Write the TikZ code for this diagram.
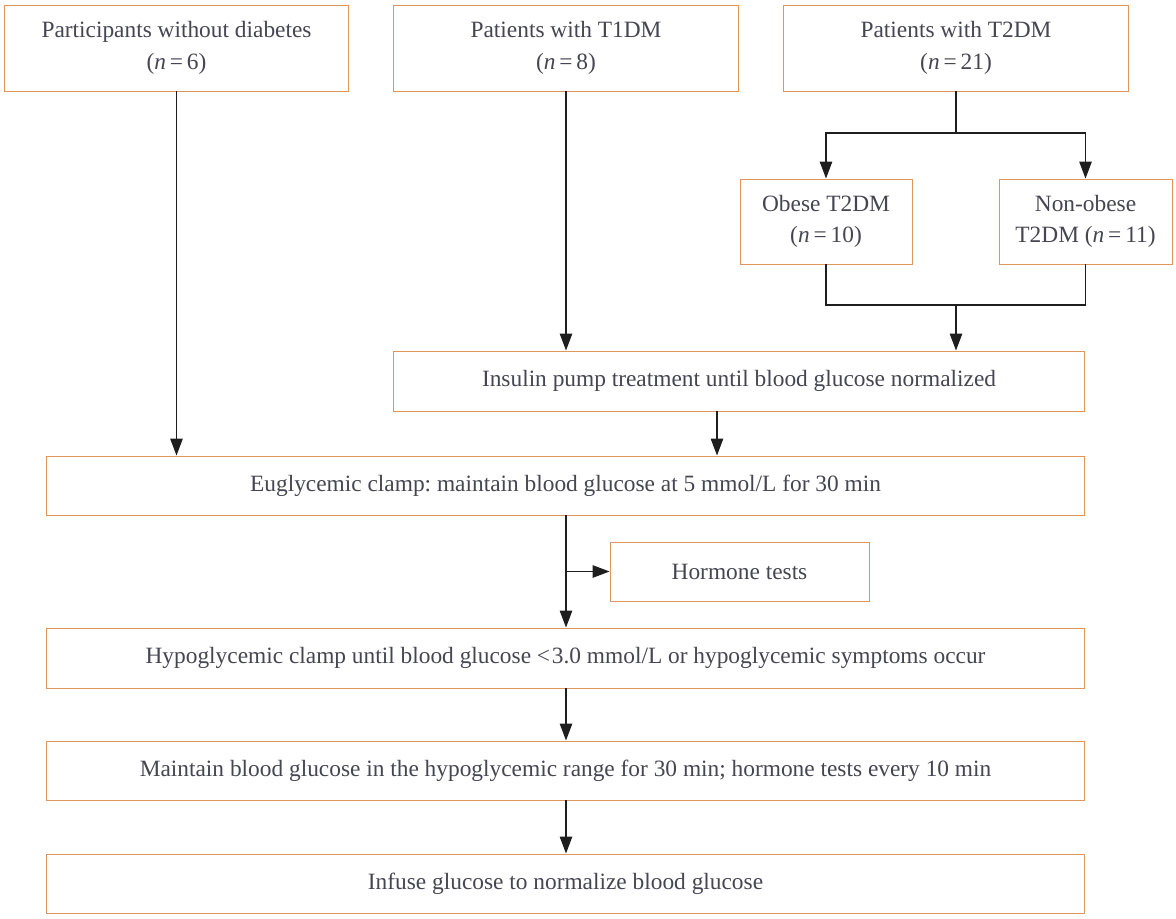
\documentclass[tikz,border=0pt]{standalone}
\usepackage{fontspec}
\setmainfont{Liberation Serif}
\usetikzlibrary{arrows.meta, positioning}
\definecolor{BoxOrange}{RGB}{222,150,90}
\definecolor{TextGray}{RGB}{70,70,82}
\definecolor{LineDark}{RGB}{30,30,30}
\frenchspacing

\begin{document}
\begin{tikzpicture}[
        x=0.02cm, y=-0.02cm,
        box/.style={rectangle,draw=BoxOrange,line width=0.55pt,fill=white,
                    text=TextGray,align=center,inner sep=0pt,
                    font=\fontsize{13.3}{17.8}\selectfont},
        arr/.style={-{Triangle[length=3.4mm,width=2.5mm]},LineDark,line width=0.7pt},
        ln/.style={LineDark,line width=0.7pt}
      ]
        \useasboundingbox (0,0) rectangle (1176,919);
        % top row
        \node[box,minimum width=6.9cm,minimum height=1.72cm] (nodia) at (176.5,48)
          {Participants without diabetes\\(\textit{n}\,=\,6)};
        \node[box,minimum width=6.92cm,minimum height=1.72cm] (tone) at (566,48)
          {Patients with T1DM\\(\textit{n}\,=\,8)};
        \node[box,minimum width=6.92cm,minimum height=1.72cm] (ttwo) at (956,48)
          {Patients with T2DM\\(\textit{n}\,=\,21)};
        % T2DM split
        \node[box,minimum width=3.44cm,minimum height=1.7cm] (obese) at (826,221.5)
          {Obese T2DM\\(\textit{n}\,=\,10)};
        \node[box,minimum width=3.46cm,minimum height=1.7cm] (nonob) at (1085.5,221.5)
          {Non-obese\\T2DM (\textit{n}\,=\,11)};
        % main flow
        \node[box,minimum width=13.84cm,minimum height=1.2cm] (pump) at (739,381)
          {Insulin pump treatment until blood glucose normalized};
        \node[box,minimum width=20.78cm,minimum height=1.18cm] (eugly) at (565.5,485.5)
          {Euglycemic clamp: maintain blood glucose at 5 mmol/L for 30 min};
        \node[box,minimum width=5.18cm,minimum height=1.18cm] (horm) at (739.5,571.5)
          {Hormone tests};
        \node[box,minimum width=20.78cm,minimum height=1.2cm] (hypo) at (565.5,658)
          {Hypoglycemic clamp until blood glucose {<}\kern1pt3.0 mmol/L or hypoglycemic symptoms occur};
        \node[box,minimum width=20.78cm,minimum height=1.18cm] (keep) at (565.5,770.5)
          {Maintain blood glucose in the hypoglycemic range for 30 min; hormone tests every 10 min};
        \node[box,minimum width=20.78cm,minimum height=1.18cm] (infuse) at (565.5,883.5)
          {Infuse glucose to normalize blood glucose};
        % branch points
        \coordinate (split) at (956,133);
        \coordinate (merge) at (956,305);
        \coordinate (tap) at (566,571.5);
        % connectors
        \draw[arr] (nodia.south) -- (nodia.south |- eugly.north);
        \draw[arr] (tone.south) -- (tone.south |- pump.north);
        \draw[ln] (ttwo.south) -- (split);
        \draw[arr] (split) -| (obese.north);
        \draw[arr] (split) -| (nonob.north);
        \draw[ln] (obese.south) |- (merge) -| (nonob.south);
        \draw[arr] (merge) -- (merge |- pump.north);
        \draw[arr] (717,411) coordinate (pumpout) -- (pumpout |- eugly.north);
        \draw[arr] (eugly.south -| tap) -- (tap |- hypo.north);
        \draw[arr] (tap) -- (horm.west);
        \draw[arr] (hypo.south -| tap) -- (tap |- keep.north);
        \draw[arr] (keep.south -| tap) -- (tap |- infuse.north);
      \end{tikzpicture}
\end{document}
